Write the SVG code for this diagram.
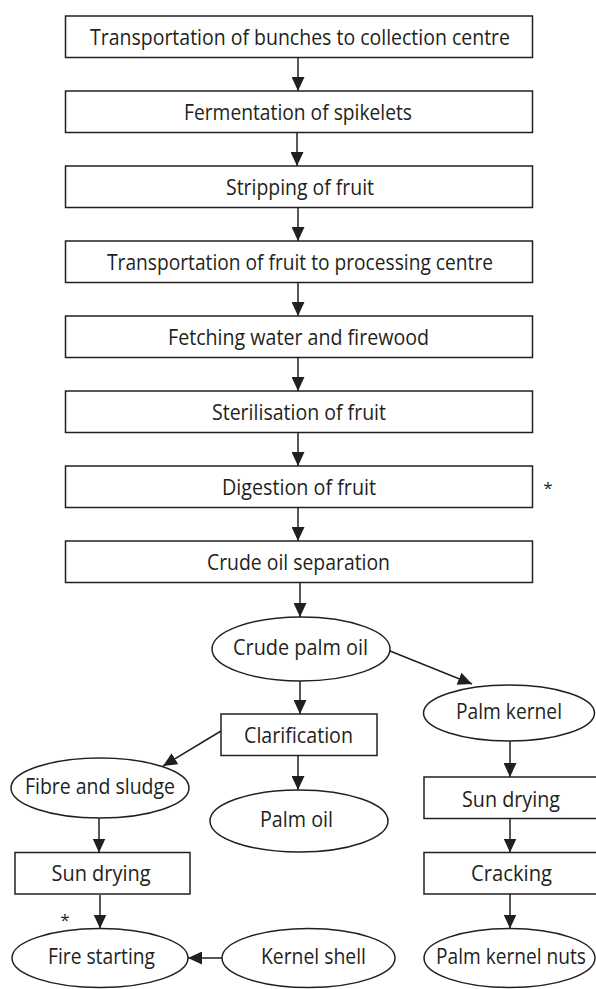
<svg xmlns="http://www.w3.org/2000/svg" width="596" height="989" viewBox="0 0 596 989">
<defs>
<marker id="ah" markerUnits="userSpaceOnUse" markerWidth="15" markerHeight="13" refX="14" refY="6.5" orient="auto">
<path d="M0,0 L14,6.5 L0,13 z" fill="#231f20"/>
</marker>
<style>
rect, ellipse { fill: #ffffff; stroke: #231f20; stroke-width: 1.5; }
text { font-family: "Open Sans", "Noto Sans", sans-serif; font-size: 21px; fill: #231f20; text-anchor: middle; }
.star { font-size: 17px; }
.c line { stroke: #231f20; stroke-width: 1.5; marker-end: url(#ah); }
</style>
</defs>
<rect width="596" height="989" fill="#ffffff" style="stroke:none"/>
<g id="n1"><rect x="65.5" y="16" width="467" height="41.5"/><text x="300" y="44.5" textLength="420" lengthAdjust="spacingAndGlyphs">Transportation of bunches to collection centre</text></g>
<g id="n2"><rect x="65.5" y="91" width="467" height="41.5"/><text x="298" y="119.5" textLength="228" lengthAdjust="spacingAndGlyphs">Fermentation of spikelets</text></g>
<g id="n3"><rect x="65.5" y="166" width="467" height="41.5"/><text x="300" y="194.5" textLength="148" lengthAdjust="spacingAndGlyphs">Stripping of fruit</text></g>
<g id="n4"><rect x="65.5" y="241" width="467" height="41.5"/><text x="300" y="269.5" textLength="386" lengthAdjust="spacingAndGlyphs">Transportation of fruit to processing centre</text></g>
<g id="n5"><rect x="65.5" y="316" width="467" height="41.5"/><text x="298.5" y="344.5" textLength="261" lengthAdjust="spacingAndGlyphs">Fetching water and firewood</text></g>
<g id="n6"><rect x="65.5" y="391" width="467" height="41.5"/><text x="299" y="419.5" textLength="174" lengthAdjust="spacingAndGlyphs">Sterilisation of fruit</text></g>
<g id="n7"><rect x="65.5" y="466" width="467" height="41.5"/><text x="299" y="494.5" textLength="154" lengthAdjust="spacingAndGlyphs">Digestion of fruit</text></g>
<g id="n8"><rect x="65.5" y="541" width="467" height="41.5"/><text x="298.5" y="569.5" textLength="183" lengthAdjust="spacingAndGlyphs">Crude oil separation</text></g>
<g id="n9"><ellipse cx="301" cy="649" rx="89" ry="32"/><text x="300.5" y="654.5" textLength="135" lengthAdjust="spacingAndGlyphs">Crude palm oil</text></g>
<g id="n10"><rect x="221" y="714" width="156" height="41.5"/><text x="298.5" y="742.5" textLength="109" lengthAdjust="spacingAndGlyphs">Clarification</text></g>
<g id="n11"><ellipse cx="509" cy="713" rx="85.5" ry="28"/><text x="509" y="719" textLength="106" lengthAdjust="spacingAndGlyphs">Palm kernel</text></g>
<g id="n12"><ellipse cx="100" cy="788" rx="89" ry="30"/><text x="100" y="794" textLength="150" lengthAdjust="spacingAndGlyphs">Fibre and sludge</text></g>
<g id="n13"><ellipse cx="299" cy="821" rx="89" ry="31"/><text x="296.5" y="827" textLength="73" lengthAdjust="spacingAndGlyphs">Palm oil</text></g>
<g id="n14"><rect x="424" y="777" width="174" height="41.5"/><text x="511" y="806.5" textLength="98" lengthAdjust="spacingAndGlyphs">Sun drying</text></g>
<g id="n15"><rect x="15" y="852.5" width="175" height="41.5"/><text x="101" y="881" textLength="99" lengthAdjust="spacingAndGlyphs">Sun drying</text></g>
<g id="n16"><rect x="424" y="852.5" width="174" height="41.5"/><text x="511.5" y="881" textLength="81" lengthAdjust="spacingAndGlyphs">Cracking</text></g>
<g id="n17"><ellipse cx="100" cy="958" rx="88" ry="29.5"/><text x="101.5" y="964" textLength="107" lengthAdjust="spacingAndGlyphs">Fire starting</text></g>
<g id="n18"><ellipse cx="308.5" cy="958" rx="86.5" ry="29.5"/><text x="313.5" y="964" textLength="105" lengthAdjust="spacingAndGlyphs">Kernel shell</text></g>
<g id="n19"><ellipse cx="509.5" cy="958" rx="85.5" ry="29.5"/><text x="511" y="964" textLength="150" lengthAdjust="spacingAndGlyphs">Palm kernel nuts</text></g>
<g id="notes"><text class="star" x="548" y="494">*</text><text class="star" x="65" y="926">*</text></g>
<g id="connectors" class="c">
<line x1="298" y1="57.5" x2="298" y2="91"/>
<line x1="297" y1="132.5" x2="297" y2="166"/>
<line x1="298" y1="207.5" x2="298" y2="241"/>
<line x1="298" y1="282.5" x2="298" y2="316"/>
<line x1="298" y1="357.5" x2="298" y2="391"/>
<line x1="298" y1="432.5" x2="298" y2="466"/>
<line x1="298" y1="507.5" x2="298" y2="541"/>
<line x1="300" y1="582.5" x2="300" y2="617"/>
<line x1="300" y1="681" x2="300" y2="714"/>
<line x1="390" y1="651" x2="472" y2="684"/>
<line x1="510" y1="741" x2="510" y2="777"/>
<line x1="510" y1="818.5" x2="510" y2="852.5"/>
<line x1="510" y1="894" x2="510" y2="928.5"/>
<line x1="221" y1="731" x2="163" y2="766"/>
<line x1="298" y1="755.5" x2="298" y2="790"/>
<line x1="99" y1="818" x2="99" y2="852.5"/>
<line x1="100" y1="895" x2="100" y2="928.5"/>
<line x1="222" y1="958" x2="188" y2="958"/>
</g>
</svg>
